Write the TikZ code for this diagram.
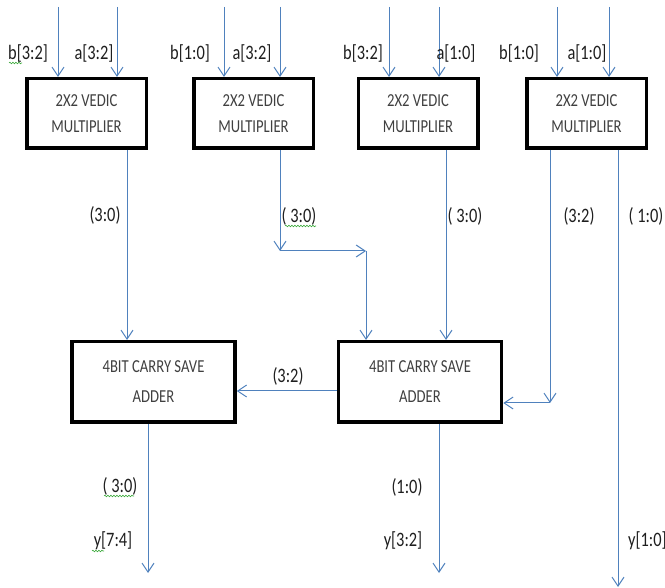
\documentclass[tikz,border=0pt]{standalone}
\usepackage{fontspec}
\setmainfont[FakeStretch=0.8]{Carlito}
\usetikzlibrary{arrows.meta,decorations.pathmorphing}
\definecolor{wire}{RGB}{79,129,189}
\definecolor{boxtxt}{RGB}{64,64,64}
\definecolor{lbltxt}{RGB}{30,30,30}
\definecolor{squig}{RGB}{60,170,60}
\tikzset{
  blockbox/.style={draw=black, line width=3.5pt, fill=white, align=center, text=boxtxt,
    font=\fontsize{18.3}{21}\selectfont, inner sep=0pt},
  mult/.style={blockbox, minimum width=119.5pt, minimum height=69.5pt},
  adder/.style={blockbox, minimum width=163pt, minimum height=80.5pt},
  wirearrow/.style={draw=wire, line width=1pt, -{Straight Barb[length=9pt,width=12pt,line width=1pt]}},
  wireline/.style={draw=wire, line width=1pt},
  lbl/.style={text=lbltxt, font=\fontsize{20.5}{23}\selectfont, inner sep=0pt},
  squiggle/.style={draw=squig, line width=0.6pt, decorate, decoration={snake, amplitude=0.8pt, segment length=3pt}}
}
\begin{document}
\begin{tikzpicture}[x=1pt,y=-1pt]
\useasboundingbox (0,0) rectangle (665,588);
\clip (0,0) rectangle (665,588);
% multipliers
\node[mult] (m1) at (86.5,113.5) {2X2 VEDIC\\[5pt]MULTIPLIER};
\node[mult] (m2) at (253.5,113.5) {2X2 VEDIC\\[5pt]MULTIPLIER};
\node[mult] (m3) at (418,113.5) {2X2 VEDIC\\[5pt]MULTIPLIER};
\node[mult] (m4) at (586.5,113.5) {2X2 VEDIC\\[5pt]MULTIPLIER};
% adders
\node[adder] (a1) at (153.5,382) {4BIT CARRY SAVE\\[9pt]ADDER};
\node[adder] (a2) at (420,382) {4BIT CARRY SAVE\\[9pt]ADDER};
% input wires
\coordinate (i1b) at (58,7);   \coordinate (i1a) at (117,7);
\coordinate (i2b) at (224,7);  \coordinate (i2a) at (280,7);
\coordinate (i3b) at (389,7);  \coordinate (i3a) at (439,7);
\coordinate (i4b) at (557,7);  \coordinate (i4a) at (609,7);
\draw[wirearrow] (i1b) -- (i1b |- m1.north);
\draw[wirearrow] (i1a) -- (i1a |- m1.north);
\draw[wirearrow] (i2b) -- (i2b |- m2.north);
\draw[wirearrow] (i2a) -- (i2a |- m2.north);
\draw[wirearrow] (i3b) -- (i3b |- m3.north);
\draw[wirearrow] (i3a) -- (i3a |- m3.north);
\draw[wirearrow] (i4b) -- (i4b |- m4.north);
\draw[wirearrow] (i4a) -- (i4a |- m4.north);
% input labels
\node[lbl] (lb1) at (28,53) {b[3:2]};
\node[lbl] (la1) at (94,53) {a[3:2]};
\node[lbl] (lb2) at (190,53) {b[1:0]};
\node[lbl] (la2) at (252,53) {a[3:2]};
\node[lbl] (lb3) at (363,53) {b[3:2]};
\node[lbl] (la3) at (456,53) {a[1:0]};
\node[lbl] (lb4) at (519,53) {b[1:0]};
\node[lbl] (la4) at (587,53) {a[1:0]};
% multiplier outputs
\coordinate (o1) at (127,0);
\coordinate (o2) at (280,0);
\coordinate (c2) at (280,251);
\coordinate (c2r) at (366,251);
\coordinate (o3) at (446,0);
\coordinate (o4a) at (550,0);
\coordinate (c4) at (550,403);
\coordinate (o4b) at (618,0);
\coordinate (e4) at (618,587);
\draw[wirearrow] (o1 |- m1.south) -- (o1 |- a1.north);
\draw[wirearrow] (o2 |- m2.south) -- (c2);
\draw[wirearrow] (c2) -- (c2r);
\draw[wirearrow] (c2r) -- (c2r |- a2.north);
\draw[wirearrow] (o3 |- m3.south) -- (o3 |- a2.north);
\draw[wirearrow] (o4a |- m4.south) -- (c4);
\draw[wirearrow] (c4) -- (c4 -| a2.east);
\draw[wirearrow] (o4b |- m4.south) -- (e4);
% middle labels
\node[lbl] (l31) at (105,215) {(3:0)};
\node[lbl] (l32) at (299,216) {( 3:0)};
\node[lbl] (l33) at (465,216) {( 3:0)};
\node[lbl] (l34) at (579,216) {(3:2)};
\node[lbl] (l35) at (646,216) {( 1:0)};
% adder link
\coordinate (ay) at (0,391);
\draw[wirearrow] (ay -| a2.west) -- (ay -| a1.east);
\node[lbl] (lmid) at (288,376) {(3:2)};
% outputs
\coordinate (y1) at (148,573);
\coordinate (y2) at (439,573);
\draw[wirearrow] (y1 |- a1.south) -- (y1);
\draw[wirearrow] (y2 |- a2.south) -- (y2);
\node[lbl] (lo1) at (120,486) {( 3:0)};
\node[lbl] (ly1) at (113,541) {y[7:4]};
\node[lbl] (lo2) at (407,487) {(1:0)};
\node[lbl] (ly2) at (403,541) {y[3:2]};
\node[lbl, anchor=west] (ly3) at (628,541) {y[1:0]};
% spell-check squiggles
\draw[squiggle] (9,63) -- (22,63);
\draw[squiggle] (285,226) -- (316,226);
\draw[squiggle] (104,496) -- (134,496);
\draw[squiggle] (92,551) -- (104,551);
\end{tikzpicture}
\end{document}
